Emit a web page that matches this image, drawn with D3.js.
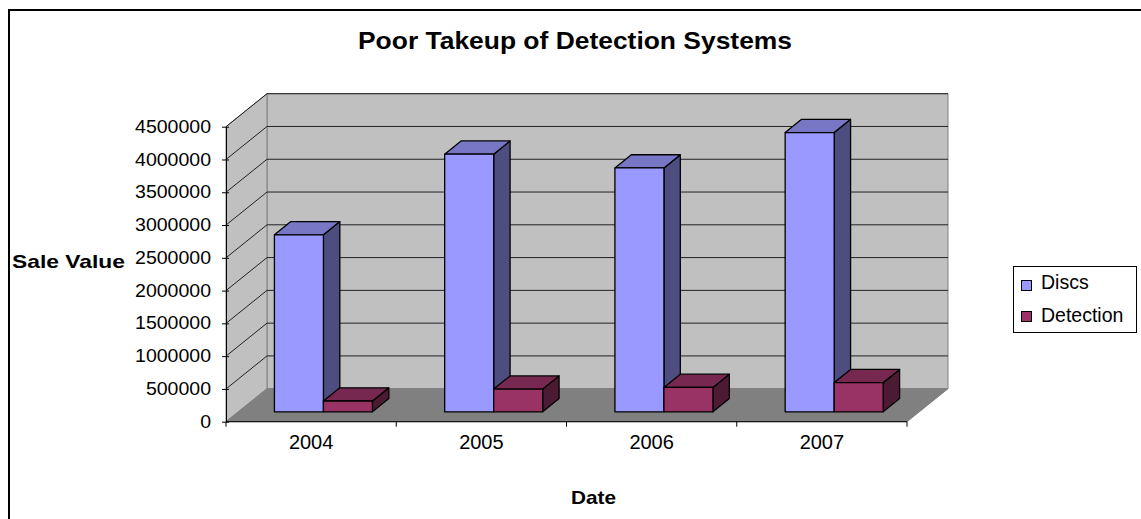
<!DOCTYPE html>
<html>
<head>
<meta charset="utf-8">
<script src="https://cdn.jsdelivr.net/npm/d3@7"></script>
<style>
  html, body { margin: 0; padding: 0; background: #fff; }
  svg { display: block; font-family: "Liberation Sans", Arial, sans-serif; }
</style>
</head>
<body>
<svg id="chart" width="1141" height="519"></svg>
<script>
// Sales data by year
const years = ["2004", "2005", "2006", "2007"];
const series = ["Discs", "Detection"];
const discs = [2700000, 3930000, 3720000, 4260000];
const detection = [165000, 346000, 372000, 445000];
const yTicks = [0, 500000, 1000000, 1500000, 2000000, 2500000, 3000000, 3500000, 4000000, 4500000];

const values = { Discs: discs, Detection: detection };
const faceColors = {
  Discs:     { front: "#9999ff", top: "#7777c6", side: "#4d4d80" },
  Detection: { front: "#993366", top: "#772850", side: "#4d1a33" }
};

const svg = d3.select("#chart");

// Front plane scales
const x = d3.scaleBand().domain(years).range([226, 907]).padding(0);
const y = d3.scaleLinear().domain([0, 4500000]).range([421.7, 126.7]);
const xs = d3.scaleBand().domain(series).range([0, x.bandwidth()]).paddingInner(0).paddingOuter(0.737);

// Oblique depth offset for the full plot depth
const DX = 41, DY = -33;
const d0 = 0.3, d1 = 0.7;           // bar depth span
const P = (px, py, d) => [px + d * DX, py + d * DY];

// Chart border (top and left edges visible)
svg.append("rect")
  .attr("x", 9).attr("y", 10).attr("width", 1200).attr("height", 600)
  .attr("fill", "none").attr("stroke", "#000").attr("stroke-width", 2);

const x0 = x.range()[0], x1 = x.range()[1];
const yBot = y(0), yTop = y(4500000);
const line = d3.line();

// Back wall
svg.append("path")
  .attr("d", line([P(x0, yTop, 1), P(x1, yTop, 1), P(x1, yBot, 1), P(x0, yBot, 1)]) + "Z")
  .attr("fill", "#c0c0c0").attr("stroke", "#808080").attr("stroke-width", 1);

// Side wall
svg.append("path")
  .attr("d", line([P(x0, yTop, 0), P(x0, yTop, 1), P(x0, yBot, 1), P(x0, yBot, 0)]) + "Z")
  .attr("fill", "#c0c0c0").attr("stroke", "#808080").attr("stroke-width", 1);

// Gridlines on back and side wall
const grid = svg.append("g");
yTicks.filter(v => v > 0).forEach(v => {
  grid.append("path")
    .attr("d", line([P(x0, y(v), 0), P(x0, y(v), 1), P(x1, y(v), 1)]))
    .attr("fill", "none").attr("stroke", "#222").attr("stroke-width", 1);
});

// Floor
svg.append("path")
  .attr("d", line([P(x0, yBot, 0), P(x0, yBot, 1), P(x1, yBot, 1), P(x1, yBot, 0)]) + "Z")
  .attr("fill", "#808080").attr("stroke", "#808080").attr("stroke-width", 1);

// Value axis
const fmt = d3.format("d");
const yAxis = svg.append("g")
  .attr("transform", `translate(${x0},0)`)
  .call(d3.axisLeft(y).tickValues(yTicks).tickFormat(fmt).tickSizeInner(4).tickSizeOuter(0).tickPadding(11));
yAxis.select(".domain").attr("stroke", "#000");
yAxis.selectAll(".tick line").attr("stroke", "#000").attr("x2", 3).attr("x1", -4);
yAxis.selectAll("text")
  .attr("font-size", 17.5).attr("fill", "#000")
  .attr("font-family", "Liberation Sans, Arial, sans-serif")
  .attr("textLength", d => fmt(d).length * 10.85)
  .attr("lengthAdjust", "spacingAndGlyphs");

// Category axis
const xAxis = svg.append("g").attr("transform", `translate(0,${yBot})`);
xAxis.append("line").attr("x1", x0).attr("x2", x1).attr("y1", 0).attr("y2", 0)
  .attr("stroke", "#000");
[...years.map(d => x(d)), x1].forEach(px => {
  xAxis.append("line").attr("x1", px).attr("x2", px).attr("y1", 0).attr("y2", 5)
    .attr("stroke", "#000");
});
xAxis.selectAll("text.cat").data(years).join("text")
  .attr("class", "cat")
  .attr("x", d => x(d) + x.bandwidth() / 2)
  .attr("y", 27.5)
  .attr("text-anchor", "middle")
  .attr("font-size", 20)
  .text(d => d);

// 3D bars
const bars = svg.append("g");
years.forEach((yr, i) => {
  series.forEach(s => {
    const v = values[s][i];
    const bx0 = x(yr) + xs(s);
    const ft = P(bx0, y(v), d0), fb = P(bx0, y(0), d0);
    const fx0 = ft[0], fx1 = ft[0] + xs.bandwidth();
    const yt = ft[1], yb = fb[1];
    const ddx = (d1 - d0) * DX, ddy = (d1 - d0) * DY;
    const c = faceColors[s];
    const g = bars.append("g").attr("stroke", "#000").attr("stroke-width", 1.3).attr("stroke-linejoin", "round");
    g.append("path")
      .attr("d", line([[fx1, yt], [fx1 + ddx, yt + ddy], [fx1 + ddx, yb + ddy], [fx1, yb]]) + "Z")
      .attr("fill", c.side);
    g.append("path")
      .attr("d", line([[fx0, yt], [fx0 + ddx, yt + ddy], [fx1 + ddx, yt + ddy], [fx1, yt]]) + "Z")
      .attr("fill", c.top);
    g.append("rect")
      .attr("x", fx0).attr("y", yt).attr("width", fx1 - fx0).attr("height", yb - yt)
      .attr("fill", c.front);
  });
});

// Titles
svg.append("text")
  .attr("x", 575).attr("y", 49)
  .attr("text-anchor", "middle")
  .attr("font-size", 24).attr("font-weight", "bold")
  .attr("textLength", 434).attr("lengthAdjust", "spacingAndGlyphs")
  .text("Poor Takeup of Detection Systems");

svg.append("text")
  .attr("x", 12).attr("y", 268)
  .attr("font-size", 19).attr("font-weight", "bold")
  .attr("textLength", 113).attr("lengthAdjust", "spacingAndGlyphs")
  .text("Sale Value");

svg.append("text")
  .attr("x", 593.5).attr("y", 504)
  .attr("text-anchor", "middle")
  .attr("font-size", 19).attr("font-weight", "bold")
  .attr("textLength", 45).attr("lengthAdjust", "spacingAndGlyphs")
  .text("Date");

// Legend
const legend = svg.append("g");
legend.append("rect")
  .attr("x", 1013.5).attr("y", 266.5).attr("width", 123).attr("height", 66)
  .attr("fill", "#fff").attr("stroke", "#000").attr("stroke-width", 1);
series.forEach((s, i) => {
  const ly = 280 + i * 31;
  legend.append("rect")
    .attr("x", 1021.5).attr("y", ly + 0.5).attr("width", 10).attr("height", 10)
    .attr("fill", faceColors[s].front).attr("stroke", "#000").attr("stroke-width", 1);
  legend.append("text")
    .attr("x", 1041).attr("y", ly + 9 + i * 2)
    .attr("font-size", 19.5)
    .text(s);
});
</script>
</body>
</html>
